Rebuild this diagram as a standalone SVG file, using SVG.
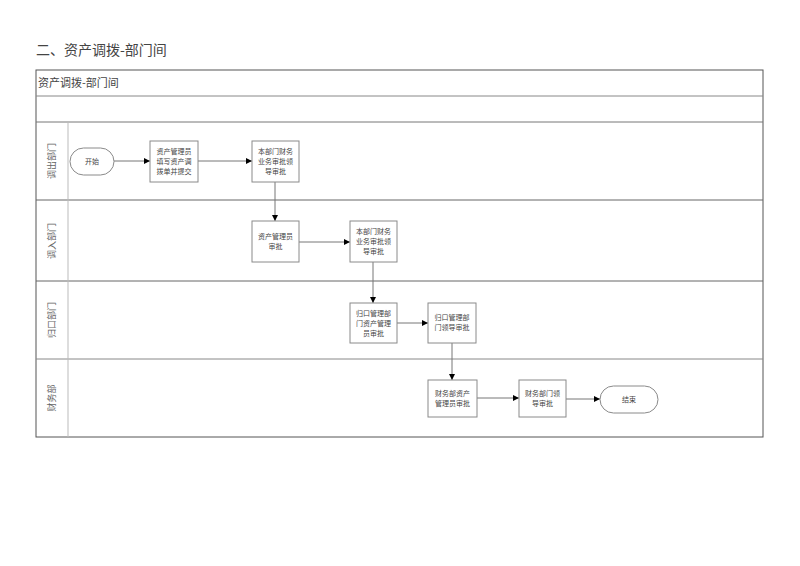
<svg xmlns="http://www.w3.org/2000/svg" width="800" height="566" viewBox="0 0 800 566">
<defs>
<marker id="ah" viewBox="0 0 10 10" refX="10" refY="5" markerWidth="6" markerHeight="6" orient="auto" markerUnits="userSpaceOnUse">
<path d="M0,0 L10,5 L0,10 z" fill="#000"/>
</marker>
<style>
.n{font-family:"Noto Sans CJK SC",sans-serif;font-size:7px;fill:#444;text-anchor:middle}
.lane{font-family:"Noto Sans CJK SC",sans-serif;font-size:9px;fill:#666;text-anchor:middle}
.box{fill:#fff;stroke:#8a8a8a;stroke-width:1}
.c{fill:none;stroke:#777;stroke-width:1;marker-end:url(#ah)}
</style>
</defs>
<rect width="800" height="566" fill="#fff"/>
<text x="36" y="55" font-size="14" font-family="Noto Sans CJK SC,sans-serif" fill="#444">二、资产调拨-部门间</text>
<g id="frame">
<rect x="36" y="70" width="727" height="367" fill="none" stroke="#555" stroke-width="1"/>
<line x1="36" y1="96" x2="763" y2="96" stroke="#888"/>
<line x1="36" y1="122" x2="763" y2="122" stroke="#777"/>
<line x1="36" y1="200" x2="763" y2="200" stroke="#666"/>
<line x1="36" y1="281" x2="763" y2="281" stroke="#666"/>
<line x1="36" y1="359" x2="763" y2="359" stroke="#888"/>
<line x1="68" y1="122" x2="68" y2="437" stroke="#bbb"/>
<text x="38" y="87" font-size="11" font-family="Noto Sans CJK SC,sans-serif" fill="#444">资产调拨-部门间</text>
</g>
<g id="lanes">
<text class="lane" transform="translate(55,161) rotate(-90)">调出部门</text>
<text class="lane" transform="translate(55,241) rotate(-90)">调入部门</text>
<text class="lane" transform="translate(55,320) rotate(-90)">归口部门</text>
<text class="lane" transform="translate(55,398) rotate(-90)">财务部</text>
</g>
<g id="connectors">
<line class="c" x1="114" y1="161" x2="150" y2="161"/>
<line class="c" x1="198" y1="161" x2="252" y2="161"/>
<line class="c" x1="275" y1="182" x2="275" y2="221"/>
<line class="c" x1="299" y1="242" x2="350" y2="242"/>
<line class="c" x1="373" y1="262" x2="373" y2="303"/>
<line class="c" x1="397" y1="323" x2="428" y2="323"/>
<line class="c" x1="452" y1="343" x2="452" y2="380"/>
<line class="c" x1="477" y1="398" x2="519" y2="398"/>
<line class="c" x1="566" y1="399" x2="600" y2="399"/>
</g>
<g id="start">
<rect class="box" x="70" y="148" width="44" height="27" rx="13.5"/>
<text class="n" x="92" y="164">开始</text>
</g>
<g id="n1">
<rect class="box" x="150" y="141" width="48" height="41"/>
<text class="n" x="174" y="154">资产管理员</text>
<text class="n" x="174" y="164">填写资产调</text>
<text class="n" x="174" y="174">拨单并提交</text>
</g>
<g id="n2">
<rect class="box" x="252" y="141" width="47" height="41"/>
<text class="n" x="275.5" y="154">本部门财务</text>
<text class="n" x="275.5" y="164">业务审批领</text>
<text class="n" x="275.5" y="174">导审批</text>
</g>
<g id="n3">
<rect class="box" x="252" y="221" width="47" height="41"/>
<text class="n" x="275.5" y="239">资产管理员</text>
<text class="n" x="275.5" y="249">审批</text>
</g>
<g id="n4">
<rect class="box" x="350" y="221" width="47" height="41"/>
<text class="n" x="373.5" y="234">本部门财务</text>
<text class="n" x="373.5" y="244">业务审批领</text>
<text class="n" x="373.5" y="254">导审批</text>
</g>
<g id="n5">
<rect class="box" x="350" y="303" width="47" height="40"/>
<text class="n" x="373.5" y="316">归口管理部</text>
<text class="n" x="373.5" y="326">门资产管理</text>
<text class="n" x="373.5" y="336">员审批</text>
</g>
<g id="n6">
<rect class="box" x="428" y="303" width="48" height="40"/>
<text class="n" x="452" y="320">归口管理部</text>
<text class="n" x="452" y="330">门领导审批</text>
</g>
<g id="n7">
<rect class="box" x="428" y="380" width="49" height="37"/>
<text class="n" x="452.5" y="396">财务部资产</text>
<text class="n" x="452.5" y="406">管理员审批</text>
</g>
<g id="n8">
<rect class="box" x="519" y="380" width="47" height="37"/>
<text class="n" x="542.5" y="396">财务部门领</text>
<text class="n" x="542.5" y="406">导审批</text>
</g>
<g id="end">
<rect class="box" x="600" y="386" width="58" height="27" rx="13.5"/>
<text class="n" x="629" y="402">结束</text>
</g>
</svg>
